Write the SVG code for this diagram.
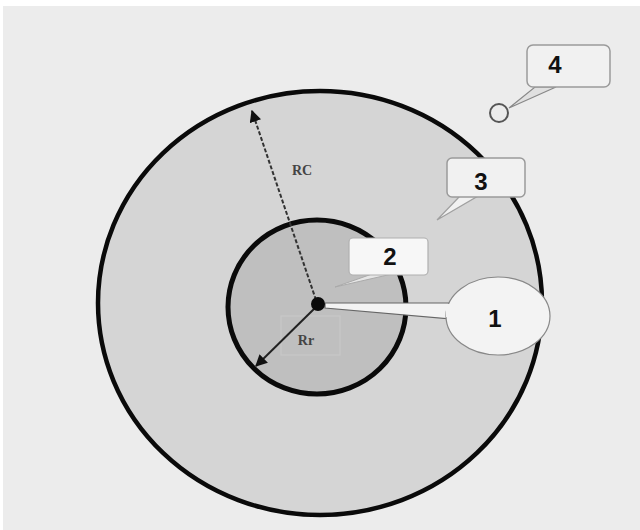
<svg xmlns="http://www.w3.org/2000/svg" width="640" height="530" viewBox="0 0 640 530">
<defs>
<style>
.box{fill:#f1f1f1;stroke:#9a9a9a;stroke-width:1.5}
.num{font-family:"Liberation Sans",Arial,sans-serif;font-weight:bold;font-size:24px;fill:#111;text-anchor:middle}
.lbl{font-family:"Liberation Serif","Times New Roman",serif;font-weight:bold;font-size:14px;fill:#444;text-anchor:middle}
</style>
<marker id="ah" viewBox="0 0 10 10" refX="9" refY="5" markerWidth="6" markerHeight="6" orient="auto-start-reverse">
<path d="M0,0 L10,5 L0,10 z" fill="#111"/>
</marker>
</defs>
<rect x="0" y="0" width="640" height="530" fill="#ffffff"/>
<rect x="3" y="6" width="637" height="524" fill="#ececec"/>
<g id="outer">
<ellipse cx="320" cy="303" rx="222" ry="212" fill="#d5d5d5" stroke="#0a0a0a" stroke-width="4.5"/>
</g>
<g id="inner">
<ellipse cx="317" cy="307" rx="89" ry="87" fill="#bfbfbf" stroke="#0a0a0a" stroke-width="5"/>
<rect x="281" y="316" width="59" height="39" fill="none" stroke="#c9c9c9" stroke-width="1"/>
</g>
<g id="connectors">
<line x1="316" y1="300" x2="252" y2="111" stroke="#333" stroke-width="2" stroke-dasharray="4,2" marker-end="url(#ah)"/>
<line x1="316" y1="307" x2="256" y2="366" stroke="#222" stroke-width="2" marker-end="url(#ah)"/>
</g>
<g id="rc-label"><text class="lbl" x="302" y="175">RC</text></g>
<g id="rr-label"><text class="lbl" x="306" y="345">Rr</text></g>
<g id="callout-3">
<path d="M460,196 L437,220 L478,196 Z" fill="#f1f1f1" stroke="#a0a0a0" stroke-width="1.2"/>
<rect class="box" x="447" y="158" width="78" height="39" rx="5"/>
<text class="num" x="481" y="190">3</text>
</g>
<g id="callout-2">
<path d="M372,274 L335,287 L392,274 Z" fill="#e6e6e6" stroke="#aaaaaa" stroke-width="1"/>
<rect x="349" y="238" width="79" height="37" rx="4" fill="#f7f7f7" stroke="#b0b0b0" stroke-width="1.2"/>
<text class="num" x="390" y="265">2</text>
</g>
<g id="callout-4">
<path d="M509,108 L535,87 L556,87 Z" fill="#e0e0e0" stroke="#888" stroke-width="1.2"/>
<rect class="box" x="527" y="45" width="83" height="42" rx="6"/>
<circle cx="499" cy="113" r="9" fill="#ececec" stroke="#555" stroke-width="2"/>
<text class="num" x="555" y="73">4</text>
</g>
<g id="callout-1">
<path d="M325,303 L452,303 L452,319 L325,308 Z" fill="#f3f3f3" stroke="#666" stroke-width="1.2"/>
<ellipse cx="498" cy="316" rx="52" ry="39" fill="#f3f3f3" stroke="#888" stroke-width="1.2"/>
<path d="M446,304 L452,304 L452,318 L446,317 Z" fill="#f3f3f3"/>
<text class="num" x="495" y="327">1</text>
</g>
<g id="center"><circle cx="318" cy="304" r="7" fill="#0a0a0a"/></g>
</svg>
